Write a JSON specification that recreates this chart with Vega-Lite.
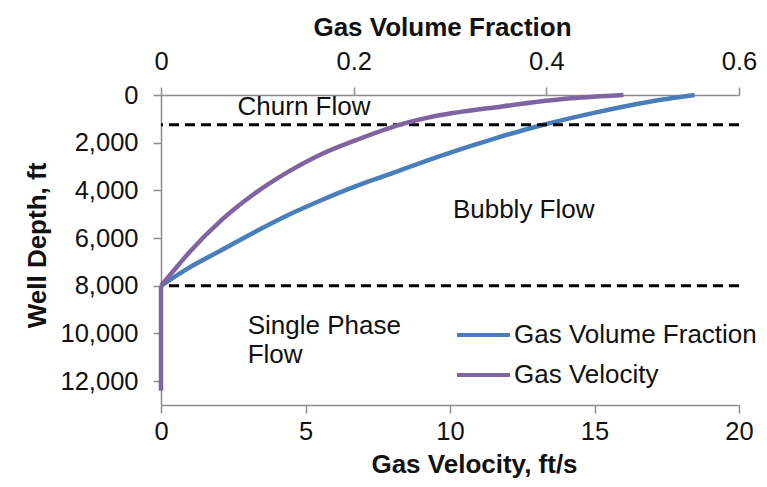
{
  "$schema": "https://vega.github.io/schema/vega-lite/v6.json",
  "width": 578,
  "height": 310,
  "autosize": "none",
  "padding": {"left": 161, "top": 95, "right": 28, "bottom": 82},
  "background": "white",
  "config": {
    "font": "Liberation Sans",
    "view": {"stroke": null},
    "axis": {
      "grid": false,
      "domainColor": "#8c8c8c",
      "domainWidth": 1.5,
      "tickColor": "#8c8c8c",
      "tickWidth": 1.5,
      "tickSize": 8,
      "labelFlush": false,
      "labelFont": "Liberation Sans",
      "labelFontSize": 25.5,
      "labelColor": "#111111",
      "titleFont": "Liberation Sans",
      "titleFontSize": 26,
      "titleFontWeight": "bold",
      "titleColor": "#111111"
    },
    "legend": {
      "labelFont": "Liberation Sans",
      "labelFontSize": 26,
      "labelColor": "#111111",
      "labelLimit": 400
    }
  },
  "datasets": {
    "gvf": [
      {"series": "Gas Volume Fraction", "depth": 0, "gvf": 0.554},
      {"series": "Gas Volume Fraction", "depth": 280, "gvf": 0.507},
      {"series": "Gas Volume Fraction", "depth": 770, "gvf": 0.447},
      {"series": "Gas Volume Fraction", "depth": 1260, "gvf": 0.396},
      {"series": "Gas Volume Fraction", "depth": 1815, "gvf": 0.347},
      {"series": "Gas Volume Fraction", "depth": 2580, "gvf": 0.288},
      {"series": "Gas Volume Fraction", "depth": 3350, "gvf": 0.235},
      {"series": "Gas Volume Fraction", "depth": 3845, "gvf": 0.201},
      {"series": "Gas Volume Fraction", "depth": 4403, "gvf": 0.167},
      {"series": "Gas Volume Fraction", "depth": 5032, "gvf": 0.132},
      {"series": "Gas Volume Fraction", "depth": 5733, "gvf": 0.098},
      {"series": "Gas Volume Fraction", "depth": 6500, "gvf": 0.063},
      {"series": "Gas Volume Fraction", "depth": 7268, "gvf": 0.028},
      {"series": "Gas Volume Fraction", "depth": 8000, "gvf": 0}
    ],
    "velocity": [
      {"series": "Gas Velocity", "part": "two-phase", "depth": 0, "velocity": 16.0},
      {"series": "Gas Velocity", "part": "two-phase", "depth": 140, "velocity": 14.2},
      {"series": "Gas Velocity", "part": "two-phase", "depth": 480, "velocity": 11.8},
      {"series": "Gas Velocity", "part": "two-phase", "depth": 960, "velocity": 9.2},
      {"series": "Gas Velocity", "part": "two-phase", "depth": 1250, "velocity": 8.25},
      {"series": "Gas Velocity", "part": "two-phase", "depth": 1890, "velocity": 6.75},
      {"series": "Gas Velocity", "part": "two-phase", "depth": 2450, "velocity": 5.6},
      {"series": "Gas Velocity", "part": "two-phase", "depth": 3215, "velocity": 4.41},
      {"series": "Gas Velocity", "part": "two-phase", "depth": 4125, "velocity": 3.25},
      {"series": "Gas Velocity", "part": "two-phase", "depth": 5240, "velocity": 2.1},
      {"series": "Gas Velocity", "part": "two-phase", "depth": 6640, "velocity": 0.95},
      {"series": "Gas Velocity", "part": "two-phase", "depth": 7350, "velocity": 0.45},
      {"series": "Gas Velocity", "part": "two-phase", "depth": 8000, "velocity": 0},
      {"series": "Gas Velocity", "part": "single-phase", "depth": 8000, "velocity": 0},
      {"series": "Gas Velocity", "part": "single-phase", "depth": 12400, "velocity": 0}
    ],
    "boundaries": [
      {"name": "Churn/Bubbly", "depth": 1250},
      {"name": "Bubbly/Single Phase", "depth": 8000}
    ],
    "regions": [
      {"label": "Churn Flow", "velocity": 2.65, "depth": 500},
      {"label": "Bubbly Flow", "velocity": 10.1, "depth": 4820},
      {"label": "Single Phase", "velocity": 3.0, "depth": 9690},
      {"label": "Flow", "velocity": 3.0, "depth": 10900}
    ]
  },
  "layer": [
    {
      "data": {"name": "gvf"},
      "mark": {"type": "line", "strokeWidth": 4.5, "interpolate": "monotone"},
      "encoding": {
        "x": {
          "field": "gvf",
          "type": "quantitative",
          "scale": {"domain": [0, 0.6], "nice": false, "zero": false},
          "axis": {
            "orient": "top",
            "values": [0, 0.2, 0.4, 0.6],
            "format": ".1~f",
            "labelPadding": 13,
            "titlePadding": 9,
            "titleX": 281,
            "title": "Gas Volume Fraction"
          }
        },
        "y": {
          "field": "depth",
          "type": "quantitative",
          "scale": {"domain": [0, 13000], "reverse": true, "nice": false},
          "axis": {
            "values": [0, 2000, 4000, 6000, 8000, 10000, 12000],
            "format": ",.0f",
            "labelPadding": 15,
            "titlePadding": 10,
            "titleY": 150,
            "title": "Well Depth, ft"
          }
        },
        "color": {
          "field": "series",
          "type": "nominal",
          "scale": {
            "domain": ["Gas Volume Fraction", "Gas Velocity"],
            "range": ["#4a7ebb", "#8064a2"]
          },
          "legend": {
            "title": null,
            "orient": "none",
            "legendX": 294,
            "legendY": 220,
            "padding": 0,
            "symbolType": "stroke",
            "symbolStrokeWidth": 4,
            "symbolSize": 2800,
            "labelOffset": 2,
            "clipHeight": 40,
            "rowPadding": 0
          }
        }
      }
    },
    {
      "layer": [
        {
          "data": {"name": "boundaries"},
          "mark": {"type": "rule", "color": "#000000", "strokeWidth": 3, "strokeDash": [10, 6]},
          "encoding": {
            "y": {"field": "depth", "type": "quantitative"}
          }
        },
        {
          "data": {"name": "velocity"},
          "mark": {"type": "line", "strokeWidth": 4.5, "interpolate": "monotone"},
          "encoding": {
            "x": {
              "field": "velocity",
              "type": "quantitative",
              "scale": {"domain": [0, 20], "nice": false},
              "axis": {
                "orient": "bottom",
                "values": [0, 5, 10, 15, 20],
                "labelPadding": 6,
                "titlePadding": 7,
                "titleX": 313,
                "title": "Gas Velocity,  ft/s"
              }
            },
            "y": {"field": "depth", "type": "quantitative"},
            "color": {"field": "series", "type": "nominal"},
            "detail": {"field": "part", "type": "nominal"}
          }
        },
        {
          "data": {"name": "regions"},
          "mark": {
            "type": "text",
            "align": "left",
            "baseline": "middle",
            "fontSize": 26,
            "font": "Liberation Sans",
            "color": "#111111"
          },
          "encoding": {
            "x": {"field": "velocity", "type": "quantitative"},
            "y": {"field": "depth", "type": "quantitative"},
            "text": {"field": "label"}
          }
        }
      ]
    }
  ],
  "resolve": {"scale": {"x": "independent"}, "axis": {"x": "independent"}}
}
